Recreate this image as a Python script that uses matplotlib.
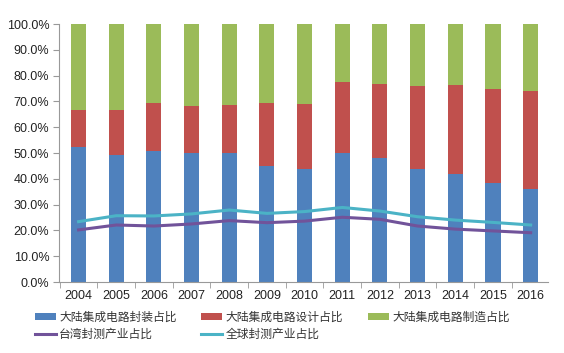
import matplotlib
matplotlib.use("Agg")
import matplotlib.pyplot as plt
from matplotlib.ticker import FuncFormatter, FixedLocator
import numpy as np

years = ["2004", "2005", "2006", "2007", "2008", "2009", "2010",
         "2011", "2012", "2013", "2014", "2015", "2016"]
packaging = [52.2, 49.2, 50.8, 50.1, 49.9, 45.0, 43.8, 50.1, 48.0, 43.8, 41.9, 38.5, 36.0]
design_top = [66.7, 66.7, 69.3, 68.2, 68.5, 69.3, 69.0, 77.6, 76.6, 76.0, 76.2, 74.9, 74.2]
design = [d - p for d, p in zip(design_top, packaging)]
manufacturing = [100 - d for d in design_top]
taiwan = [20.2, 22.1, 21.7, 22.5, 23.8, 23.0, 23.6, 25.1, 24.3, 21.7, 20.5, 19.8, 19.1]
world = [23.4, 25.7, 25.6, 26.4, 27.9, 26.6, 27.3, 28.9, 27.5, 25.3, 24.0, 23.1, 22.1]
labels = ["大陆集成电路封装占比", "大陆集成电路设计占比", "大陆集成电路制造占比",
          "台湾封测产业占比", "全球封测产业占比"]

fig = plt.figure(figsize=(5.64, 3.53), dpi=100)
ax = fig.add_axes([0.1046, 0.2011, 0.8670, 0.7309])

x = np.arange(len(years))
w = 0.4
b1 = ax.bar(x, packaging, w, color="#4F81BD", label=labels[0], zorder=2)
b2 = ax.bar(x, design, w, bottom=packaging, color="#C0504D", label=labels[1], zorder=2)
b3 = ax.bar(x, manufacturing, w, bottom=design_top, color="#9BBB59", label=labels[2], zorder=2)
l1, = ax.plot(x, taiwan, color="#71539A", lw=2.2, label=labels[3], zorder=3)
l2, = ax.plot(x, world, color="#4BB3C6", lw=2.2, label=labels[4], zorder=3)

ax.set_xlim(-0.52, 12.46)
ax.set_ylim(0, 100)
ax.set_yticks(np.arange(0, 101, 10))
ax.yaxis.set_major_formatter(FuncFormatter(lambda v, p: f"{v:.1f}%"))
ax.set_xticks(x)
ax.set_xticklabels(years)
ax.xaxis.set_minor_locator(FixedLocator(np.arange(-0.5, 12.6, 1)))
ax.tick_params(axis="x", which="major", length=0, pad=6)
ax.tick_params(axis="x", which="minor", length=4, color="#999999")
ax.tick_params(axis="y", length=4, color="#999999", pad=3)
for lab in ax.get_xticklabels() + ax.get_yticklabels():
    lab.set_fontfamily(["Liberation Sans", "DejaVu Sans"])
    lab.set_fontsize(9)
    lab.set_color("#222222")
for s in ["top", "right"]:
    ax.spines[s].set_visible(False)
for s in ["left", "bottom"]:
    ax.spines[s].set_color("#999999")

# row-major order for a 3-column legend
handles = [b1, l1, b2, l2, b3]
hl = [labels[0], labels[3], labels[1], labels[4], labels[2]]
leg = fig.legend(handles, hl, loc="upper left", bbox_to_anchor=(0.043, 0.15),
                 ncol=3, frameon=False, handlelength=1.75,
                 handleheight=0.45, columnspacing=2.1, handletextpad=0.3,
                 labelspacing=0.35,
                 prop={"family": ["Noto Sans CJK SC", "DejaVu Sans"], "size": 8.5})
for t in leg.get_texts():
    t.set_color("#333333")

fig.savefig("out.png", dpi=100)
